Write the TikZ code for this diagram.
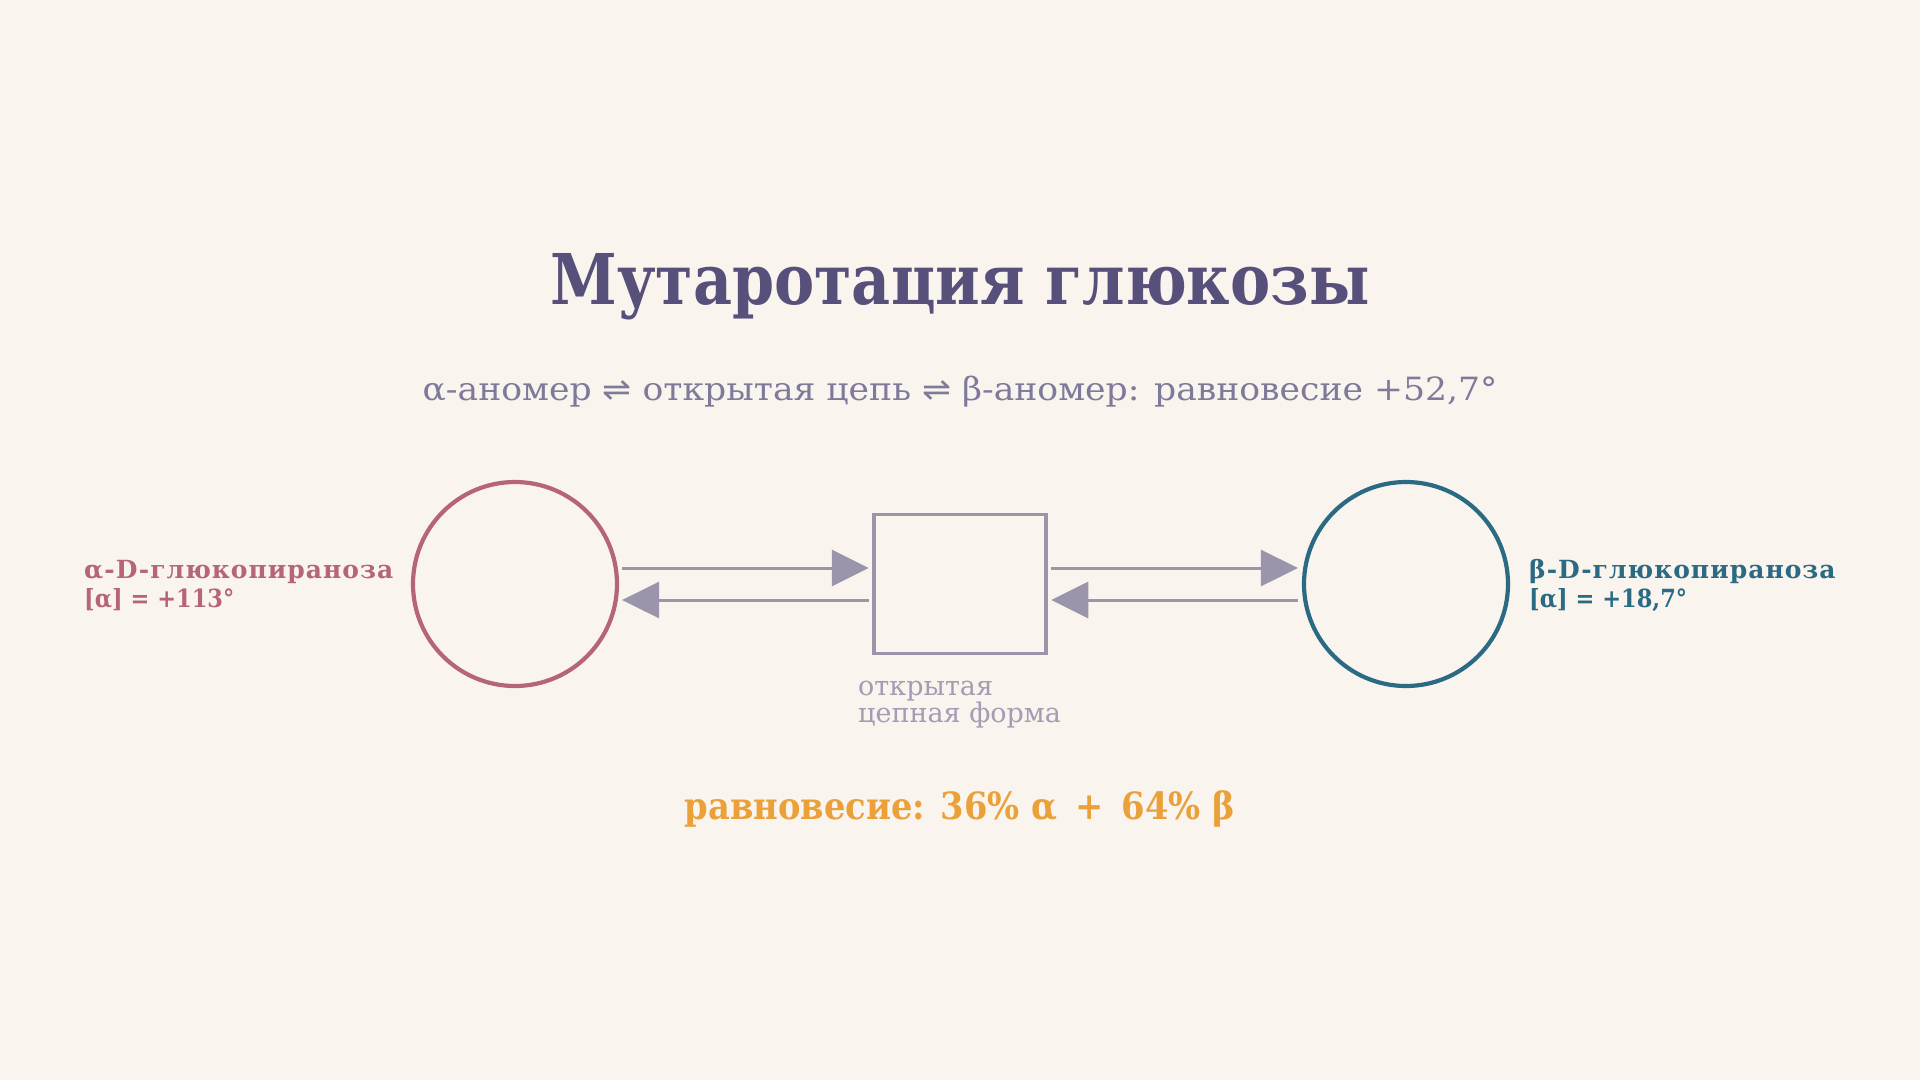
\documentclass[tikz,border=0pt]{standalone}
\usepackage{fontspec}
\setmainfont{DejaVu Serif Condensed}
\newfontfamily\widefont{DejaVu Serif}
\newfontfamily\symfont{DejaVu Sans}
\newfontfamily\spacedfont[LetterSpace=4]{DejaVu Serif}
\usetikzlibrary{arrows.meta}
\definecolor{bg}{HTML}{FAF4EE}
\definecolor{titlec}{HTML}{56507A}
\definecolor{subc}{HTML}{7F7A99}
\definecolor{alphac}{HTML}{B5647A}
\definecolor{betac}{HTML}{2A6A82}
\definecolor{grayc}{HTML}{9A95AA}
\definecolor{capc}{HTML}{A29DB2}
\definecolor{eqc}{HTML}{EBA13A}
\begin{document}
\begin{tikzpicture}[x=1pt,y=-1pt,
  ring/.style={circle,draw,line width=4.2pt,minimum size=204pt,inner sep=0pt},
  openbox/.style={rectangle,draw=grayc,line width=3.5pt,minimum width=172pt,minimum height=139pt,inner sep=0pt},
  arr/.style={draw=grayc,line width=3pt,-{Triangle[length=37pt,width=36pt]},color=grayc},
  lbl/.style={font=\bfseries\fontsize{25}{28}\selectfont,inner sep=0pt,anchor=base west},
  slbl/.style={font=\spacedfont\bfseries\fontsize{25}{28}\selectfont,inner sep=0pt,anchor=base west}
]
\useasboundingbox[fill=bg] (0,0) rectangle (1920,1080);

\node[anchor=base,inner sep=0pt,text=titlec,font=\bfseries\fontsize{70}{80}\selectfont] (title) at (960,304) {\scalebox{0.957}[1]{Мутаротация глюкозы}};
\node[anchor=base,inner sep=0pt,text=subc,font=\widefont\fontsize{32}{36}\selectfont] (sub) at (960,400) {\scalebox{1.081}[1]{α-аномер {\symfont ⇌} открытая цепь {\symfont ⇌} β-аномер: равновесие +52,7°}};

\node[ring,draw=alphac] (alpha) at (515,584) {};
\node[ring,draw=betac] (beta) at (1406,584) {};
\node[openbox] (open) at (960,584) {};

\draw[arr] ([xshift=3pt,yshift=16pt]alpha.east) -- ([xshift=-3.5pt,yshift=16pt]open.west);
\draw[arr] ([xshift=-3.5pt,yshift=-16pt]open.west) -- ([xshift=3pt,yshift=-16pt]alpha.east);
\draw[arr] ([xshift=3.5pt,yshift=16pt]open.east) -- ([xshift=-4pt,yshift=16pt]beta.west);
\draw[arr] ([xshift=-4pt,yshift=-16pt]beta.west) -- ([xshift=3.5pt,yshift=-16pt]open.east);

\node[slbl,text=alphac] (al1) at (84,578) {α-D-глюкопираноза};
\node[lbl,text=alphac] (al2) at (84,607) {[α] = +113°};
\node[slbl,text=betac] (bl1) at (1529,578) {β-D-глюкопираноза};
\node[lbl,text=betac] (bl2) at (1529,607) {[α] = +18,7°};

\node[anchor=base west,inner sep=0pt,text=capc,font=\widefont\fontsize{27}{27}\selectfont] (cap1) at (858,695) {открытая};
\node[anchor=base west,inner sep=0pt,text=capc,font=\widefont\fontsize{27}{27}\selectfont] (cap2) at (858,722) {цепная форма};

\node[anchor=base,inner sep=0pt,text=eqc,font=\bfseries\fontsize{37.5}{44}\selectfont] (eq) at (960,819) {равновесие: 36\%~α\hspace{18pt}+\hspace{18pt}64\%~β};
\end{tikzpicture}
\end{document}
